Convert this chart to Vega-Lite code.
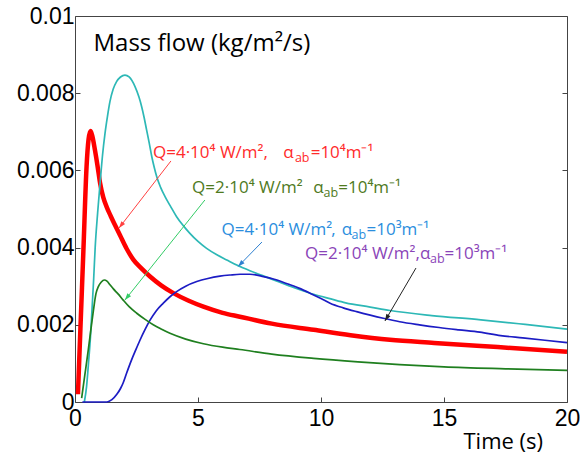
{
  "$schema": "https://vega.github.io/schema/vega-lite/v6.json",
  "width": 492,
  "height": 386,
  "autosize": "none",
  "padding": {"left": 75, "top": 16, "right": 13, "bottom": 51},
  "background": "white",
  "config": {"view": {"stroke": "#444", "strokeWidth": 1}, "axis": {"grid": false}},
  "datasets": {
    "curves": [
      {"s":"red","t":0.12,"v":0.0002},{"s":"red","t":0.22,"v":0.0019},{"s":"red","t":0.34,"v":0.0039},{"s":"red","t":0.47,"v":0.0061},{"s":"red","t":0.55,"v":0.0068},{"s":"red","t":0.63,"v":0.00702},{"s":"red","t":0.7,"v":0.0069},{"s":"red","t":0.81,"v":0.00653},{"s":"red","t":0.92,"v":0.0061},{"s":"red","t":1.02,"v":0.00567},{"s":"red","t":1.15,"v":0.0053},{"s":"red","t":1.29,"v":0.00505},{"s":"red","t":1.45,"v":0.00482},{"s":"red","t":1.63,"v":0.00458},{"s":"red","t":1.83,"v":0.00432},{"s":"red","t":2.1,"v":0.00397},{"s":"red","t":2.37,"v":0.00369},{"s":"red","t":2.7,"v":0.00346},{"s":"red","t":3.05,"v":0.00325},{"s":"red","t":3.5,"v":0.00302},{"s":"red","t":4.0,"v":0.00282},{"s":"red","t":4.6,"v":0.00263},{"s":"red","t":5.22,"v":0.00247},{"s":"red","t":6.0,"v":0.00231},{"s":"red","t":6.7,"v":0.00221},{"s":"red","t":8.0,"v":0.00203},{"s":"red","t":9.7,"v":0.00187},{"s":"red","t":11.2,"v":0.00173},{"s":"red","t":12.8,"v":0.00161},{"s":"red","t":14.6,"v":0.00153},{"s":"red","t":16.5,"v":0.00145},{"s":"red","t":18.2,"v":0.00138},{"s":"red","t":20,"v":0.0013},
      {"s":"cyan","t":0.38,"v":0.0},{"s":"cyan","t":0.47,"v":0.0004},{"s":"cyan","t":0.56,"v":0.0011},{"s":"cyan","t":0.63,"v":0.0017},{"s":"cyan","t":0.7,"v":0.0025},{"s":"cyan","t":0.76,"v":0.0032},{"s":"cyan","t":0.82,"v":0.004},{"s":"cyan","t":0.92,"v":0.0049},{"s":"cyan","t":1.02,"v":0.00567},{"s":"cyan","t":1.12,"v":0.0064},{"s":"cyan","t":1.22,"v":0.00696},{"s":"cyan","t":1.32,"v":0.0074},{"s":"cyan","t":1.42,"v":0.00778},{"s":"cyan","t":1.55,"v":0.0081},{"s":"cyan","t":1.69,"v":0.0083},{"s":"cyan","t":1.85,"v":0.00842},{"s":"cyan","t":2.03,"v":0.00847},{"s":"cyan","t":2.2,"v":0.00842},{"s":"cyan","t":2.44,"v":0.00817},{"s":"cyan","t":2.6,"v":0.0079},{"s":"cyan","t":2.71,"v":0.00765},{"s":"cyan","t":2.81,"v":0.00737},{"s":"cyan","t":2.91,"v":0.00705},{"s":"cyan","t":3.02,"v":0.0067},{"s":"cyan","t":3.12,"v":0.00636},{"s":"cyan","t":3.22,"v":0.00608},{"s":"cyan","t":3.32,"v":0.00584},{"s":"cyan","t":3.48,"v":0.00556},{"s":"cyan","t":3.66,"v":0.00532},{"s":"cyan","t":3.9,"v":0.00505},{"s":"cyan","t":4.13,"v":0.0048},{"s":"cyan","t":4.4,"v":0.00457},{"s":"cyan","t":4.67,"v":0.00437},{"s":"cyan","t":5.0,"v":0.00416},{"s":"cyan","t":5.35,"v":0.00398},{"s":"cyan","t":5.75,"v":0.00382},{"s":"cyan","t":6.17,"v":0.00368},{"s":"cyan","t":6.6,"v":0.00354},{"s":"cyan","t":7.11,"v":0.0034},{"s":"cyan","t":7.6,"v":0.00328},{"s":"cyan","t":8.3,"v":0.00311},{"s":"cyan","t":9.0,"v":0.00294},{"s":"cyan","t":9.7,"v":0.00279},{"s":"cyan","t":10.4,"v":0.00267},{"s":"cyan","t":11.0,"v":0.00257},{"s":"cyan","t":12.0,"v":0.00246},{"s":"cyan","t":12.8,"v":0.00237},{"s":"cyan","t":14.5,"v":0.00224},{"s":"cyan","t":16.5,"v":0.00213},{"s":"cyan","t":18.3,"v":0.00201},{"s":"cyan","t":20,"v":0.00189},
      {"s":"blue","t":0.3,"v":0.0},{"s":"blue","t":1.3,"v":0.0},{"s":"blue","t":1.5,"v":0.00006},{"s":"blue","t":1.7,"v":0.0002},{"s":"blue","t":1.85,"v":0.00035},{"s":"blue","t":1.96,"v":0.0005},{"s":"blue","t":2.1,"v":0.00075},{"s":"blue","t":2.3,"v":0.00109},{"s":"blue","t":2.47,"v":0.00135},{"s":"blue","t":2.64,"v":0.0016},{"s":"blue","t":2.85,"v":0.00188},{"s":"blue","t":3.05,"v":0.00212},{"s":"blue","t":3.3,"v":0.00236},{"s":"blue","t":3.59,"v":0.00256},{"s":"blue","t":3.85,"v":0.00272},{"s":"blue","t":4.13,"v":0.00286},{"s":"blue","t":4.5,"v":0.003},{"s":"blue","t":4.95,"v":0.00312},{"s":"blue","t":5.4,"v":0.0032},{"s":"blue","t":5.89,"v":0.00326},{"s":"blue","t":6.3,"v":0.00329},{"s":"blue","t":6.71,"v":0.00331},{"s":"blue","t":7.11,"v":0.00331},{"s":"blue","t":7.66,"v":0.00325},{"s":"blue","t":8.1,"v":0.00318},{"s":"blue","t":8.6,"v":0.00307},{"s":"blue","t":9.1,"v":0.00295},{"s":"blue","t":9.55,"v":0.00282},{"s":"blue","t":10.0,"v":0.00268},{"s":"blue","t":10.37,"v":0.00256},{"s":"blue","t":10.9,"v":0.00244},{"s":"blue","t":11.45,"v":0.00234},{"s":"blue","t":12.0,"v":0.00225},{"s":"blue","t":12.53,"v":0.00217},{"s":"blue","t":13.2,"v":0.00208},{"s":"blue","t":14.0,"v":0.002},{"s":"blue","t":14.8,"v":0.00193},{"s":"blue","t":15.6,"v":0.00187},{"s":"blue","t":16.46,"v":0.00181},{"s":"blue","t":17.3,"v":0.00172},{"s":"blue","t":18.2,"v":0.00166},{"s":"blue","t":19.1,"v":0.0016},{"s":"blue","t":20,"v":0.00154},
      {"s":"green","t":0.27,"v":0.0001},{"s":"green","t":0.4,"v":0.0007},{"s":"green","t":0.54,"v":0.00135},{"s":"green","t":0.65,"v":0.0019},{"s":"green","t":0.75,"v":0.00238},{"s":"green","t":0.85,"v":0.0028},{"s":"green","t":0.95,"v":0.00299},{"s":"green","t":1.07,"v":0.00311},{"s":"green","t":1.19,"v":0.00316},{"s":"green","t":1.3,"v":0.00313},{"s":"green","t":1.43,"v":0.00303},{"s":"green","t":1.56,"v":0.00293},{"s":"green","t":1.75,"v":0.0028},{"s":"green","t":1.96,"v":0.00264},{"s":"green","t":2.2,"v":0.00247},{"s":"green","t":2.51,"v":0.0023},{"s":"green","t":2.85,"v":0.00214},{"s":"green","t":3.18,"v":0.002},{"s":"green","t":3.5,"v":0.00189},{"s":"green","t":3.86,"v":0.00178},{"s":"green","t":4.5,"v":0.00163},{"s":"green","t":5.22,"v":0.00151},{"s":"green","t":6.0,"v":0.00142},{"s":"green","t":6.7,"v":0.00136},{"s":"green","t":8.0,"v":0.00124},{"s":"green","t":9.7,"v":0.00113},{"s":"green","t":11.5,"v":0.00104},{"s":"green","t":13.2,"v":0.00097},{"s":"green","t":15.0,"v":0.00091},{"s":"green","t":17.5,"v":0.00086},{"s":"green","t":20,"v":0.00082}
    ],
    "arrows": [
      {"k":"red","x":3.9,"y":0.006244,"x2":1.79,"y2":0.004508},
      {"k":"green","x":5.28,"y":0.005233,"x2":2.03,"y2":0.002642},
      {"k":"blue","x":7.6,"y":0.004145,"x2":6.63,"y2":0.00351},
      {"k":"black","x":13.86,"y":0.00347,"x2":12.6,"y2":0.0021}
    ],
    "notes": [
      {"k":"red","p":"main","x":3.17,"y":0.00632,"t":"Q=4·10⁴ W/m²,"},
      {"k":"red","p":"main","x":8.47,"y":0.00632,"t":"α"},
      {"k":"red","p":"sub","x":8.94,"y":0.00622,"t":"ab"},
      {"k":"red","p":"main","x":9.58,"y":0.00632,"t":"=10⁴m⁻¹"},
      {"k":"green","p":"main","x":4.76,"y":0.005415,"t":"Q=2·10⁴ W/m²"},
      {"k":"green","p":"main","x":9.69,"y":0.005415,"t":"α"},
      {"k":"green","p":"sub","x":10.1,"y":0.00531,"t":"ab"},
      {"k":"green","p":"main","x":10.7,"y":0.005415,"t":"=10⁴m⁻¹"},
      {"k":"blue","p":"main","x":5.96,"y":0.004326,"t":"Q=4·10⁴ W/m²"},
      {"k":"blue","p":"main","x":10.42,"y":0.004326,"t":","},
      {"k":"blue","p":"main","x":10.84,"y":0.004326,"t":"α"},
      {"k":"blue","p":"sub","x":11.24,"y":0.004223,"t":"ab"},
      {"k":"blue","p":"main","x":11.85,"y":0.004326,"t":"=10³m⁻¹"},
      {"k":"purple","p":"main","x":9.35,"y":0.003697,"t":"Q=2·10⁴ W/m²,"},
      {"k":"purple","p":"main","x":14.02,"y":0.003697,"t":"α"},
      {"k":"purple","p":"sub","x":14.43,"y":0.0036,"t":"ab"},
      {"k":"purple","p":"main","x":15.02,"y":0.003697,"t":"=10³m⁻¹"}
    ]
  },
  "layer": [
    {
      "data": {"name": "curves"},
      "transform": [{"filter": "datum.s == 'red'"}],
      "mark": {"type": "line", "interpolate": "monotone", "strokeWidth": 4.5},
      "encoding": {
        "x": {"field": "t", "type": "quantitative", "scale": {"domain": [0, 20], "nice": false, "zero": false},
          "axis": {"orient": "bottom", "values": [0, 5, 10, 15, 20], "format": "~g", "domain": false, "tickSize": -5, "tickColor": "#444",
            "labelFont": "Liberation Sans", "labelFontSize": 23, "labelColor": "black", "labelPadding": 10, "labelFlush": false, "labelOverlap": false, "labelBound": false,
            "title": "Time (s)", "titleFont": "Open Sans", "titleFontSize": 22, "titleFontWeight": "normal", "titleColor": "black",
            "titleAlign": "left", "titleBaseline": "alphabetic", "titleX": 388, "titleY": 46}},
        "y": {"field": "v", "type": "quantitative", "scale": {"domain": [0, 0.01], "nice": false, "zero": false},
          "axis": {"orient": "left", "values": [0, 0.002, 0.004, 0.006, 0.008, 0.01], "format": "~g", "domain": false, "tickSize": -5, "tickColor": "#444",
            "labelFont": "Liberation Sans", "labelFontSize": 23, "labelColor": "black", "labelPadding": 6, "labelFlush": false, "labelOverlap": false, "labelBound": false,
            "title": "Mass flow (kg/m²/s)", "titleFont": "Open Sans", "titleFontSize": 24, "titleFontWeight": "normal", "titleColor": "black",
            "titleAngle": 0, "titleAlign": "left", "titleBaseline": "alphabetic", "titleX": 18, "titleY": 34}},
        "color": {"field": "s", "type": "nominal", "scale": {"domain": ["red", "cyan", "blue", "green"], "range": ["#ff0000", "#2db8b6", "#1c1cc4", "#1f7f1f"]}, "legend": null}
      }
    },
    {
      "data": {"name": "curves"},
      "transform": [{"filter": "datum.s != 'red'"}],
      "mark": {"type": "line", "interpolate": "monotone", "strokeWidth": 1.7},
      "encoding": {
        "x": {"field": "t", "type": "quantitative", "axis": null},
        "y": {"field": "v", "type": "quantitative",
          "axis": {"orient": "right", "values": [0, 0.002, 0.004, 0.006, 0.008, 0.01], "labels": false, "domain": false, "tickSize": -5, "tickColor": "#444", "title": null}},
        "color": {"field": "s", "type": "nominal", "scale": {"domain": ["red", "cyan", "blue", "green"], "range": ["#ff0000", "#2db8b6", "#1c1cc4", "#1f7f1f"]}, "legend": null}
      }
    },
    {
      "data": {"name": "arrows"},
      "mark": {"type": "rule", "strokeWidth": 1},
      "encoding": {
        "x": {"field": "x", "type": "quantitative", "axis": null},
        "y": {"field": "y", "type": "quantitative", "axis": null},
        "x2": {"field": "x2"},
        "y2": {"field": "y2"},
        "color": {"field": "k", "type": "nominal", "scale": {"domain": ["red", "green", "blue", "black"], "range": ["#ff4040", "#33cc66", "#2f80d0", "#222222"]}, "legend": null}
      }
    },
    {
      "data": {"name": "arrows"},
      "transform": [{"calculate": "atan2((datum.x2 - datum.x) * 24.6, (datum.y2 - datum.y) * 38600) * 180 / PI", "as": "ang"}],
      "mark": {"type": "point", "shape": "M0,0L0.45,1.3L-0.45,1.3Z", "filled": true, "opacity": 1, "size": 110},
      "encoding": {
        "x": {"field": "x2", "type": "quantitative", "axis": null},
        "y": {"field": "y2", "type": "quantitative", "axis": null},
        "angle": {"field": "ang", "type": "quantitative", "scale": null},
        "color": {"field": "k", "type": "nominal", "scale": {"domain": ["red", "green", "blue", "black"], "range": ["#ff4040", "#33cc66", "#2f80d0", "#222222"]}, "legend": null}
      }
    },
    {
      "data": {"name": "notes"},
      "transform": [{"filter": "datum.p == 'main'"}],
      "mark": {"type": "text", "font": "Open Sans", "fontSize": 17, "align": "left", "baseline": "alphabetic"},
      "encoding": {
        "x": {"field": "x", "type": "quantitative", "axis": null},
        "y": {"field": "y", "type": "quantitative", "axis": null},
        "text": {"field": "t"},
        "color": {"field": "k", "type": "nominal", "scale": {"domain": ["red", "green", "blue", "purple"], "range": ["#ff2b2b", "#4f7a1e", "#2b8ede", "#8a44b8"]}, "legend": null}
      }
    },
    {
      "data": {"name": "notes"},
      "transform": [{"filter": "datum.p == 'sub'"}],
      "mark": {"type": "text", "font": "Open Sans", "fontSize": 12.5, "align": "left", "baseline": "alphabetic"},
      "encoding": {
        "x": {"field": "x", "type": "quantitative", "axis": null},
        "y": {"field": "y", "type": "quantitative", "axis": null},
        "text": {"field": "t"},
        "color": {"field": "k", "type": "nominal", "scale": {"domain": ["red", "green", "blue", "purple"], "range": ["#ff2b2b", "#4f7a1e", "#2b8ede", "#8a44b8"]}, "legend": null}
      }
    }
  ],
  "resolve": {"scale": {"color": "independent"}, "axis": {"x": "independent", "y": "independent"}}
}
